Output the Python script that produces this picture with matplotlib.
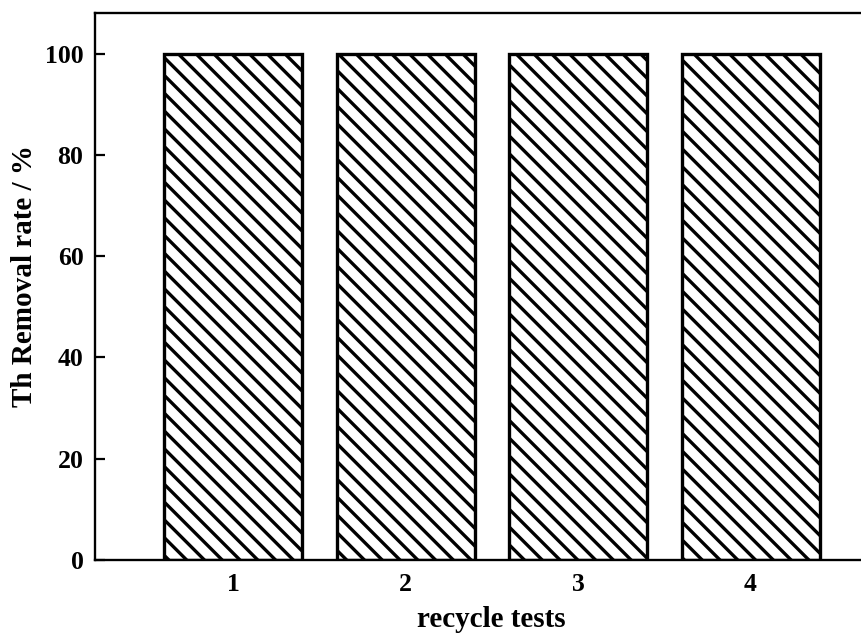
import matplotlib
matplotlib.use("Agg")
import matplotlib.pyplot as plt

tests = [1, 2, 3, 4]
removal_rate = [100, 100, 100, 100]
yticks = [0, 20, 40, 60, 80, 100]

DPI = 160
plt.rcParams['font.family'] = ['Liberation Serif', 'DejaVu Serif']
plt.rcParams['font.weight'] = 'bold'
plt.rcParams['hatch.linewidth'] = 1.5
plt.rcParams['hatch.color'] = 'black'

fig = plt.figure(figsize=(861 / DPI, 635 / DPI), dpi=DPI)
ax = fig.add_axes([95 / 861, (635 - 560) / 635, 793.5 / 861, (560 - 13) / 635])

ax.bar(tests, removal_rate, width=0.8, color='white', edgecolor='black',
       linewidth=1.5, hatch='\\\\\\')

ax.set_xlim(0.2, 4.8)
ax.set_ylim(0, 108)
ax.set_xticks(tests)
ax.set_yticks(yticks)
ax.tick_params(axis='y', direction='in', length=4.5, width=1.0, labelsize=11.6, pad=5.2)
ax.tick_params(axis='x', direction='in', length=0, labelsize=11.6, pad=6)
for s in ax.spines.values():
    s.set_linewidth(1.05)

ax.set_ylabel('Th Removal rate / %', fontsize=13.1, fontweight='bold')
ax.yaxis.set_label_coords(-0.072, 0.519)
ax.set_xlabel('recycle tests', fontsize=13.1, fontweight='bold', labelpad=4.5)

fig.savefig('out.png', dpi=DPI)
